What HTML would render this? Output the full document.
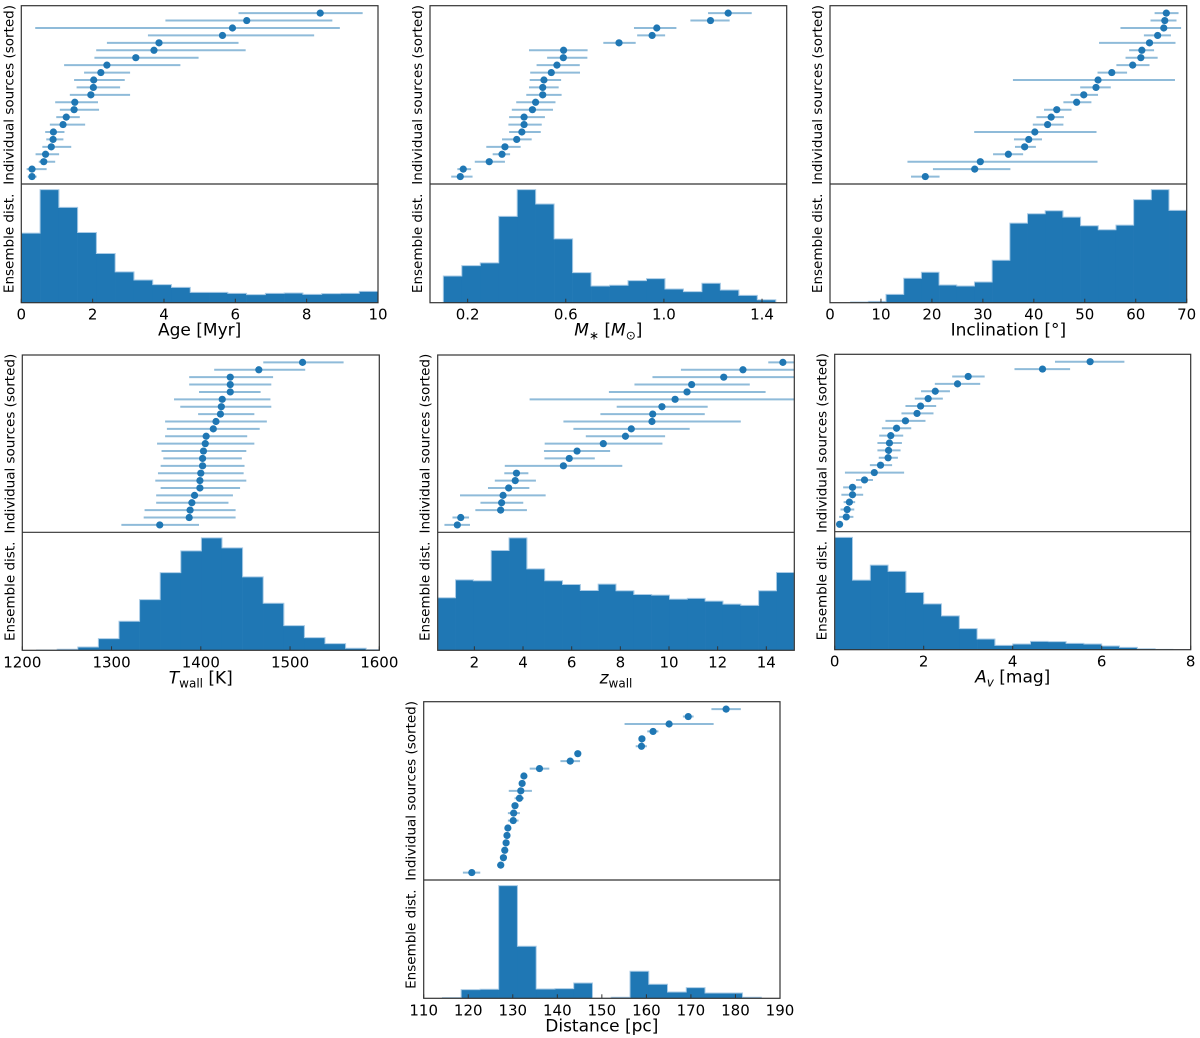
<!DOCTYPE html>
<html><head><meta charset="utf-8">
<style>
body{margin:0;background:#fff;}
svg{display:block;font-family:"DejaVu Sans","Liberation Sans",sans-serif;}
</style></head>
<body>
<svg id="chart" width="1200" height="1038" xmlns="http://www.w3.org/2000/svg"></svg>
<script>
// ---- Data arrays (sorted, index 0 = bottom) ----
const ageVal=[0.3,0.3,0.63,0.68,0.84,0.89,0.9,1.17,1.26,1.48,1.5,1.95,2.02,2.03,2.23,2.4,3.21,3.72,3.86,5.64,5.92,6.32,8.38];
const ageLo=[0.18,0.15,0.49,0.4,0.59,0.7,0.67,0.8,0.98,1.08,0.95,1.36,1.55,1.48,1.76,1.2,2.05,2.1,2.4,3.55,0.39,4.04,6.09];
const ageHi=[0.43,0.71,0.95,1.06,1.4,1.18,1.21,1.79,1.64,2.18,2.15,3.05,2.77,2.9,3.05,4.46,4.97,6.29,6.09,8.21,8.93,8.72,9.57];
const ageHist=[208,338,285,210,147,92,68,54,46,31,31,28,24,28,29,25,27,28,34];
const ageBins=[0,10];

const massVal=[0.17,0.182,0.288,0.34,0.352,0.4,0.421,0.43,0.43,0.464,0.477,0.506,0.506,0.511,0.541,0.564,0.59,0.591,0.817,0.952,0.971,1.19,1.262];
const massLo=[0.133,0.158,0.229,0.302,0.276,0.34,0.369,0.366,0.369,0.38,0.398,0.439,0.45,0.453,0.455,0.481,0.524,0.45,0.753,0.891,0.878,1.108,1.18];
const massHi=[0.22,0.214,0.352,0.373,0.416,0.461,0.498,0.502,0.515,0.548,0.558,0.583,0.571,0.581,0.658,0.657,0.688,0.689,0.885,1.005,1.051,1.268,1.358];
const massHist=[80,111,119,258,338,295,191,90,50,52,66,72,41,33,58,38,22,9];
const massBins=[0.1008,1.456];

const incVal=[18.7,28.4,29.5,35.0,38.2,39.0,40.2,42.7,43.4,44.5,48.4,49.8,52.2,52.6,55.3,59.4,61.0,61.2,62.7,64.3,65.5,65.7,66.0];
const incLo=[15.9,20.2,15.2,32.0,36.3,36.1,28.3,39.8,40.5,42.0,45.8,47.2,49.1,35.9,52.5,56.2,58.0,58.7,52.8,61.6,57.0,62.9,63.7];
const incHi=[21.5,35.4,52.5,37.9,40.4,41.6,52.3,45.8,45.9,47.4,51.3,52.6,55.1,67.7,58.3,62.7,64.3,63.6,67.8,66.9,68.9,68.0,68.4];
const incHist=[2,4,25,73,91,53,50,62,127,238,266,275,256,230,218,232,308,338,276];
const incBins=[4.05,70];

const twVal=[1354,1387,1388,1390,1393,1399,1399,1400,1402,1402,1403,1405,1406,1414,1417,1422,1423,1424,1433,1433,1433,1465,1514];
const twLo=[1311,1336,1337,1350,1350,1355,1349,1352,1355,1358,1356,1351,1360,1362,1360,1397,1377,1370,1398,1387,1387,1415,1470];
const twHi=[1398,1439,1439,1431,1436,1444,1451,1448,1449,1446,1451,1460,1452,1466,1474,1460,1479,1478,1467,1479,1481,1517,1560];
const twHist=[1,3,10,35,87,152,233,298,337,307,220,141,74,38,20,6,2];
const twBins=[1216,1608.4];

const zwVal=[1.30,1.44,3.08,3.12,3.18,3.41,3.68,3.73,5.66,5.90,6.22,7.30,8.21,8.45,9.30,9.33,9.71,10.25,10.74,10.93,12.25,13.04,14.68];
const zwLo=[0.77,1.10,2.04,2.25,1.41,2.56,2.84,3.23,3.25,4.88,4.86,4.89,6.58,6.07,5.66,7.18,7.85,4.27,7.53,8.58,9.32,10.49,14.08];
const zwHi=[1.82,1.78,4.16,4.01,4.93,4.26,4.53,4.22,8.08,6.95,7.58,9.73,9.84,10.85,12.95,11.47,11.59,15.5,13.97,13.32,15.5,15.5,15.3];
const zwHist=[158,212,209,300,338,245,209,198,180,199,179,168,166,154,156,148,139,135,179,234];
const zwBins=[0.493,15.15];

const avVal=[0.11,0.26,0.28,0.33,0.40,0.40,0.67,0.89,1.03,1.20,1.21,1.23,1.26,1.39,1.59,1.85,1.93,2.10,2.26,2.76,3.00,4.67,5.74];
const avLo=[0.08,0.10,0.13,0.20,0.15,0.19,0.48,0.23,0.79,0.99,0.96,0.96,1.00,1.06,1.14,1.50,1.59,1.80,1.94,2.25,2.64,4.04,4.95];
const avHi=[0.14,0.42,0.44,0.46,0.64,0.61,0.86,1.56,1.29,1.42,1.48,1.51,1.54,1.72,2.04,2.22,2.28,2.43,2.59,3.27,3.37,5.29,6.51];
const avHist=[336,208,253,234,171,137,101,63,32,13,17,25,24,19,17,11,7,3,1,0];
const avBins=[0,8];

const dVal=[120.8,127.3,127.9,128.2,128.5,128.7,128.9,130.1,130.2,130.5,131.5,131.8,132.1,132.5,136.0,142.9,144.6,158.9,159.0,161.5,165.1,169.4,177.9];
const dLo=[118.8,126.5,127.5,127.9,128.2,128.4,128.6,128.9,128.9,130.2,130.4,129.1,131.8,132.2,133.8,140.7,144.3,157.6,158.6,160.2,155.1,168.2,174.6];
const dHi=[122.7,128.0,128.3,128.5,128.8,129.0,129.2,131.3,131.6,130.8,132.5,134.3,132.4,132.8,138.2,145.1,144.9,160.1,159.4,162.7,175.1,170.6,181.2];
const dHist=[2,26,27,338,156,28,29,46,0,3,81,42,19,32,16,16,3];
const dBins=[114.2,185.8];

const ageTicks=[0,2,4,6,8,10];
const massTicks=[0.2,0.6,1.0,1.4];
const incTicks=[0,10,20,30,40,50,60,70];
const twTicks=[1200,1300,1400,1500,1600];
const zwTicks=[2,4,6,8,10,12,14];
const avTicks=[0,2,4,6,8];
const dTicks=[110,120,130,140,150,160,170,180,190];

const NS='http://www.w3.org/2000/svg';
const svg=document.getElementById('chart');
function mk(tag,attrs,parent){const e=document.createElementNS(NS,tag);for(const k in attrs)e.setAttribute(k,attrs[k]);(parent||svg).appendChild(e);return e;}

let pid=0;
function panel(cfg){
  pid++;
  const g=mk('g',{});
  
  
  const {L,R,T,D,B,xmin,xmax}=cfg;
  const xs=v=>L+(v-xmin)/(xmax-xmin)*(R-L);
  const n=cfg.val.length;
  const ys=i=>D-(i+1)*(D-T)/(n+1);
  const cp=mk('clipPath',{id:'clip'+pid},g);
  mk('rect',{x:L,y:T,width:R-L,height:B-T},cp);
  const plot=mk('g',{'clip-path':'url(#clip'+pid+')'},g);
  for(let i=0;i<n;i++){
    const eb=mk('line',{x1:xs(cfg.lo[i]),x2:xs(cfg.hi[i]),y1:ys(i),y2:ys(i),stroke:'#8fbbd9','stroke-width':2},plot);
    
    
    const c=mk('circle',{cx:xs(cfg.val[i]),cy:ys(i),r:3.6,fill:'#1f77b4'},plot);
    
    
  }
  const hmax=Math.max(...cfg.hist)*1.05;
  const nb=cfg.hist.length;const bw=(cfg.bins[1]-cfg.bins[0])/nb;
  const hy=v=>B-v/hmax*(B-D);
  let pts=`${xs(cfg.bins[0])},${B} `;
  for(let j=0;j<nb;j++){
    const x0=xs(cfg.bins[0]+j*bw),x1=xs(cfg.bins[0]+(j+1)*bw),y=hy(cfg.hist[j]);
    const r=mk('rect',{x:x0,y:y,width:x1-x0+0.3,height:B-y,fill:'#1f77b4'},plot);
    
    
    pts+=`${x0},${y} ${x1},${y} `;
  }
  pts+=`${xs(cfg.bins[1])},${B}`;
  mk('polyline',{points:pts,fill:'none',stroke:'#a9cbe6','stroke-width':1},plot);
  mk('rect',{x:L,y:T,width:R-L,height:B-T,fill:'none',stroke:'#333','stroke-width':1.2},g);
  mk('line',{x1:L,x2:R,y1:D,y2:D,stroke:'#333','stroke-width':1.2},g);
  cfg.ticks.forEach(t=>{
    const x=xs(t);
    mk('line',{x1:x,x2:x,y1:B,y2:B-4,stroke:'#333','stroke-width':1},g);
    const tl=mk('text',{x:x,y:B+17,'font-size':15,'text-anchor':'middle',fill:'#000'},g);
    tl.textContent=cfg.fmt?cfg.fmt(t):String(t);
    
    
  });
  const xl=mk('text',{x:(L+R)/2,y:B+33,'font-size':17,'text-anchor':'middle',fill:'#000'},g);
  xl.innerHTML=cfg.xlabel;
  
  
  const yl1=mk('text',{transform:`translate(${L-8},${(T+D)/2}) rotate(-90)`,'font-size':13.5,'text-anchor':'middle',fill:'#000'},g);
  yl1.textContent='Individual sources (sorted)';
  
  
  const yl2=mk('text',{transform:`translate(${L-8},${(D+B)/2}) rotate(-90)`,'font-size':13.5,'text-anchor':'middle',fill:'#000'},g);
  yl2.textContent='Ensemble dist.';
  
  
}

panel({name:'age',L:21.3,R:378,T:5.7,D:184,B:302.7,xmin:0,xmax:10,val:ageVal,lo:ageLo,hi:ageHi,hist:ageHist,bins:ageBins,ticks:ageTicks,xlabel:'Age [Myr]'});
panel({name:'mass',L:430,R:786.7,T:5.7,D:184,B:302.7,xmin:0.0465,xmax:1.5006,val:massVal,lo:massLo,hi:massHi,hist:massHist,bins:massBins,ticks:massTicks,fmt:t=>t.toFixed(1),xlabel:'<tspan font-style="italic">M</tspan><tspan font-size="12" dy="4">∗</tspan><tspan dy="-4"> [</tspan><tspan font-style="italic">M</tspan><tspan font-size="12" dy="4">⊙</tspan><tspan dy="-4">]</tspan>'});
panel({name:'inclination',L:830,R:1186.7,T:5.7,D:184,B:302.7,xmin:0,xmax:70,val:incVal,lo:incLo,hi:incHi,hist:incHist,bins:incBins,ticks:incTicks,xlabel:'Inclination [°]'});
panel({name:'twall',L:22.3,R:379.3,T:355,D:532.3,B:650.3,xmin:1200,xmax:1600,val:twVal,lo:twLo,hi:twHi,hist:twHist,bins:twBins,ticks:twTicks,xlabel:'<tspan font-style="italic">T</tspan><tspan font-size="12" dy="4">wall</tspan><tspan dy="-4"> [K]</tspan>'});
panel({name:'zwall',L:437.7,R:794.3,T:355,D:532.3,B:650.3,xmin:0.493,xmax:15.15,val:zwVal,lo:zwLo,hi:zwHi,hist:zwHist,bins:zwBins,ticks:zwTicks,xlabel:'<tspan font-style="italic">z</tspan><tspan font-size="12" dy="4">wall</tspan>'});
panel({name:'av',L:834.7,R:1190.7,T:354.3,D:531.7,B:649.7,xmin:0,xmax:8,val:avVal,lo:avLo,hi:avHi,hist:avHist,bins:avBins,ticks:avTicks,xlabel:'<tspan font-style="italic">A</tspan><tspan font-size="12" font-style="italic" dy="4">v</tspan><tspan dy="-4"> [mag]</tspan>'});
panel({name:'distance',L:423.7,R:780,T:701.7,D:880,B:998.3,xmin:110,xmax:190,val:dVal,lo:dLo,hi:dHi,hist:dHist,bins:dBins,ticks:dTicks,xlabel:'Distance [pc]'});
</script>
</body></html>
